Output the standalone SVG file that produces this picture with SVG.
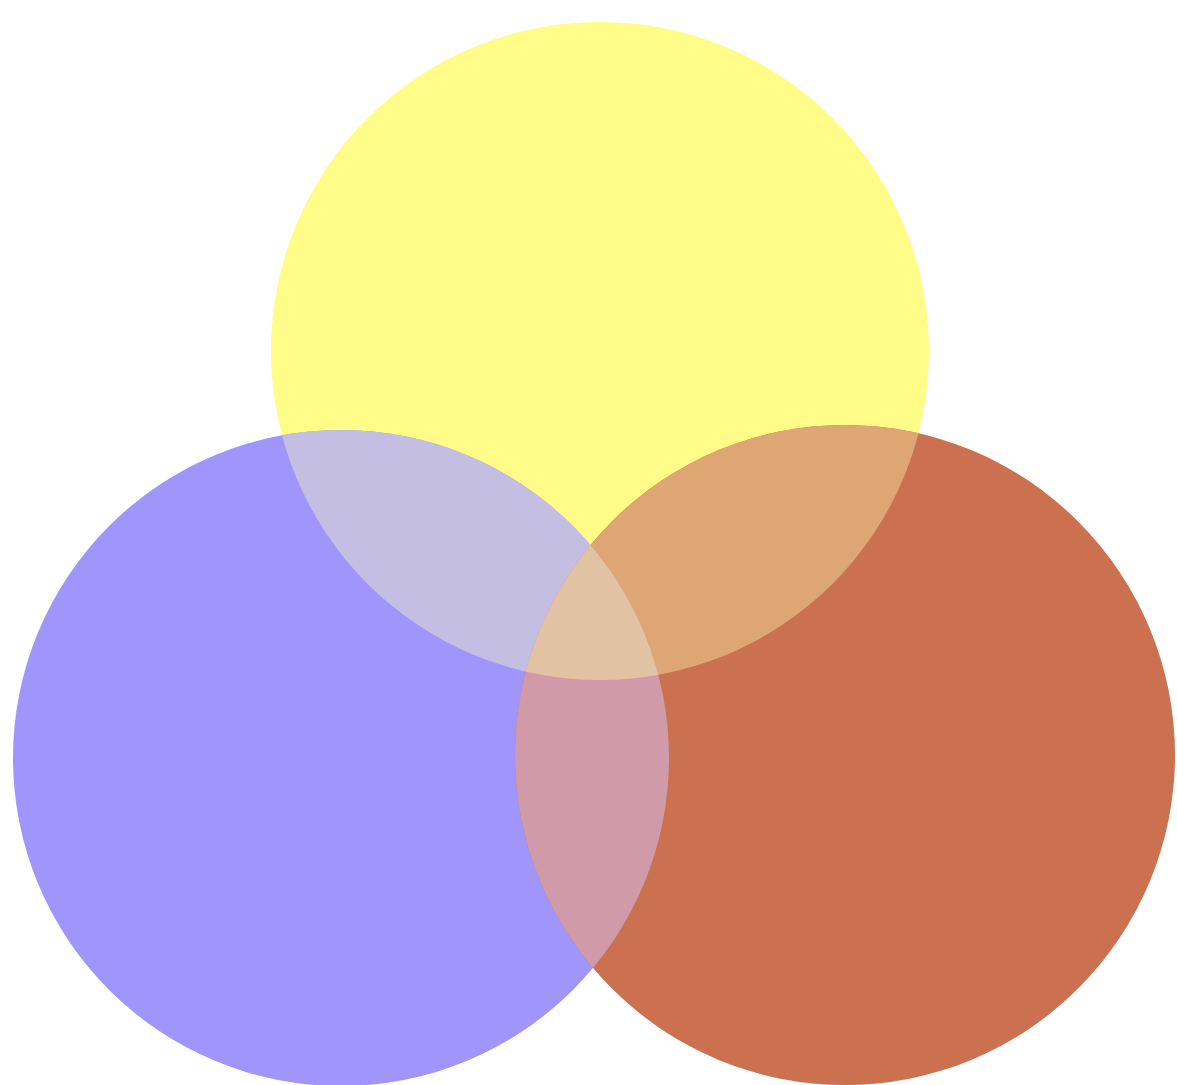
<svg xmlns="http://www.w3.org/2000/svg" width="1177" height="1085" viewBox="0 0 1177 1085">
<defs>
<clipPath id="cy"><circle cx="600" cy="351" r="329"/></clipPath>
<clipPath id="cb"><circle cx="341" cy="758" r="328"/></clipPath>
</defs>
<rect width="1177" height="1085" fill="#ffffff"/>
<g id="yellow"><circle cx="600" cy="351" r="329" fill="#FFFC88"/></g>
<g id="blue"><circle cx="341" cy="758" r="328" fill="#A095FA"/></g>
<g id="red"><circle cx="845" cy="755" r="330" fill="#CB7150"/></g>
<g id="yellow-blue" clip-path="url(#cy)"><circle cx="341" cy="758" r="328" fill="#C5BEE3"/></g>
<g id="yellow-red" clip-path="url(#cy)"><circle cx="845" cy="755" r="330" fill="#DEA575"/></g>
<g id="blue-red" clip-path="url(#cb)"><circle cx="845" cy="755" r="330" fill="#D09AA8"/></g>
<g id="all" clip-path="url(#cy)"><g clip-path="url(#cb)"><circle cx="845" cy="755" r="330" fill="#E1C2A3"/></g></g>
</svg>
